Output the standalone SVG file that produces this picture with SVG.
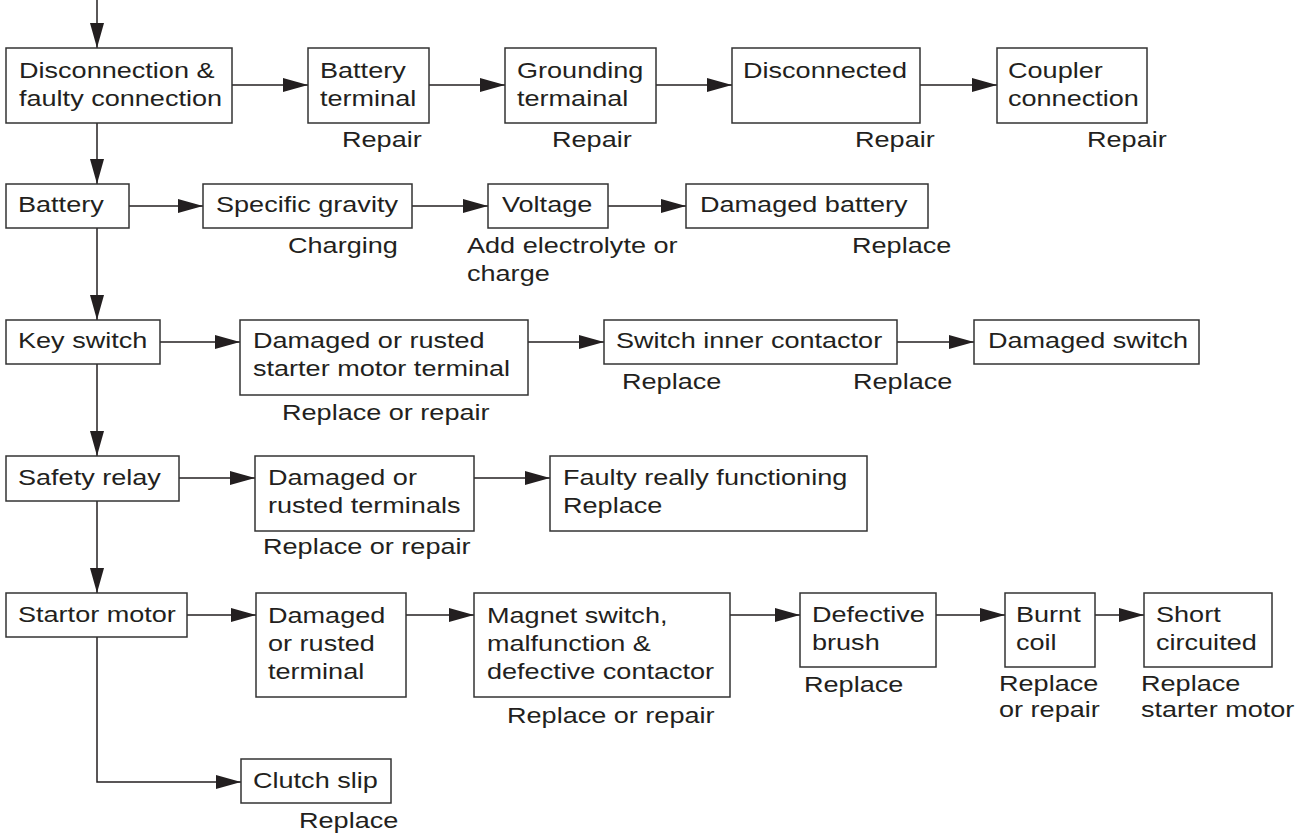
<svg xmlns="http://www.w3.org/2000/svg" width="1300" height="836" viewBox="0 0 1300 836">
<style>
.box{fill:#fff;stroke:#333;stroke-width:1.5}
.t{font-family:"Liberation Sans",Arial,Helvetica,sans-serif;font-size:22px;fill:#231f20}
.c{fill:none;stroke:#231f20;stroke-width:1.5}
</style>
<defs>
<marker id="ah" markerUnits="userSpaceOnUse" markerWidth="26" markerHeight="14" refX="25" refY="7" orient="auto">
<path d="M0,0 L25,7 L0,14 z" fill="#231f20"/>
</marker>
</defs>
<rect width="1300" height="836" fill="#fff"/>
<g id="connectors">
<line class="c" x1="97" y1="0" x2="97" y2="48" marker-end="url(#ah)"/>
<line class="c" x1="97" y1="123" x2="97" y2="184" marker-end="url(#ah)"/>
<line class="c" x1="97" y1="228" x2="97" y2="320" marker-end="url(#ah)"/>
<line class="c" x1="97" y1="364" x2="97" y2="456" marker-end="url(#ah)"/>
<line class="c" x1="97" y1="501" x2="97" y2="593" marker-end="url(#ah)"/>
<polyline class="c" points="97,637 97,782 241,782" marker-end="url(#ah)"/>
<line class="c" x1="232" y1="85" x2="308" y2="85" marker-end="url(#ah)"/>
<line class="c" x1="429" y1="85" x2="505" y2="85" marker-end="url(#ah)"/>
<line class="c" x1="656" y1="85" x2="732" y2="85" marker-end="url(#ah)"/>
<line class="c" x1="920" y1="85" x2="997" y2="85" marker-end="url(#ah)"/>
<line class="c" x1="129" y1="206" x2="203" y2="206" marker-end="url(#ah)"/>
<line class="c" x1="412" y1="206" x2="488" y2="206" marker-end="url(#ah)"/>
<line class="c" x1="608" y1="206" x2="686" y2="206" marker-end="url(#ah)"/>
<line class="c" x1="160" y1="342" x2="240" y2="342" marker-end="url(#ah)"/>
<line class="c" x1="528" y1="342" x2="604" y2="342" marker-end="url(#ah)"/>
<line class="c" x1="897" y1="342" x2="974" y2="342" marker-end="url(#ah)"/>
<line class="c" x1="179" y1="478" x2="255" y2="478" marker-end="url(#ah)"/>
<line class="c" x1="474" y1="478" x2="550" y2="478" marker-end="url(#ah)"/>
<line class="c" x1="187" y1="615" x2="256" y2="615" marker-end="url(#ah)"/>
<line class="c" x1="406" y1="615" x2="474" y2="615" marker-end="url(#ah)"/>
<line class="c" x1="730" y1="615" x2="800" y2="615" marker-end="url(#ah)"/>
<line class="c" x1="936" y1="615" x2="1005" y2="615" marker-end="url(#ah)"/>
<line class="c" x1="1095" y1="615" x2="1144" y2="615" marker-end="url(#ah)"/>
</g>
<g id="disconnection">
<rect class="box" x="6" y="48" width="226" height="75"/>
<text class="t" transform="translate(19 78) scale(1.23 1)"><tspan x="0">Disconnection &amp;</tspan><tspan x="0" dy="28">faulty connection</tspan></text>
</g>
<g id="battery-terminal">
<rect class="box" x="308" y="48" width="121" height="75"/>
<text class="t" transform="translate(320 78) scale(1.23 1)"><tspan x="0">Battery</tspan><tspan x="0" dy="28">terminal</tspan></text>
<text class="t" transform="translate(342 147) scale(1.23 1)">Repair</text>
</g>
<g id="grounding-terminal">
<rect class="box" x="505" y="48" width="151" height="75"/>
<text class="t" transform="translate(517 78) scale(1.23 1)"><tspan x="0">Grounding</tspan><tspan x="0" dy="28">termainal</tspan></text>
<text class="t" transform="translate(552 147) scale(1.23 1)">Repair</text>
</g>
<g id="disconnected">
<rect class="box" x="732" y="48" width="188" height="75"/>
<text class="t" transform="translate(743 78) scale(1.23 1)">Disconnected</text>
<text class="t" transform="translate(855 147) scale(1.23 1)">Repair</text>
</g>
<g id="coupler">
<rect class="box" x="997" y="48" width="150" height="75"/>
<text class="t" transform="translate(1008 78) scale(1.23 1)"><tspan x="0">Coupler</tspan><tspan x="0" dy="28">connection</tspan></text>
<text class="t" transform="translate(1087 147) scale(1.23 1)">Repair</text>
</g>
<g id="battery">
<rect class="box" x="6" y="184" width="123" height="44"/>
<text class="t" transform="translate(18 212) scale(1.23 1)">Battery</text>
</g>
<g id="specific-gravity">
<rect class="box" x="203" y="184" width="209" height="44"/>
<text class="t" transform="translate(216 212) scale(1.23 1)">Specific gravity</text>
<text class="t" transform="translate(288 253) scale(1.23 1)">Charging</text>
</g>
<g id="voltage">
<rect class="box" x="488" y="184" width="120" height="44"/>
<text class="t" transform="translate(502 212) scale(1.23 1)">Voltage</text>
<text class="t" transform="translate(467 253) scale(1.23 1)"><tspan x="0">Add electrolyte or</tspan><tspan x="0" dy="28">charge</tspan></text>
</g>
<g id="damaged-battery">
<rect class="box" x="686" y="184" width="242" height="44"/>
<text class="t" transform="translate(700 212) scale(1.23 1)">Damaged battery</text>
<text class="t" transform="translate(852 253) scale(1.23 1)">Replace</text>
</g>
<g id="key-switch">
<rect class="box" x="6" y="320" width="154" height="44"/>
<text class="t" transform="translate(18 348) scale(1.23 1)">Key switch</text>
</g>
<g id="starter-terminal">
<rect class="box" x="240" y="320" width="288" height="75"/>
<text class="t" transform="translate(253 348) scale(1.23 1)"><tspan x="0">Damaged or rusted</tspan><tspan x="0" dy="28">starter motor terminal</tspan></text>
<text class="t" transform="translate(282 420) scale(1.23 1)">Replace or repair</text>
</g>
<g id="switch-inner">
<rect class="box" x="604" y="320" width="293" height="44"/>
<text class="t" transform="translate(616 348) scale(1.23 1)">Switch inner contactor</text>
<text class="t" transform="translate(622 389) scale(1.23 1)">Replace</text>
</g>
<g id="damaged-switch">
<rect class="box" x="974" y="320" width="225" height="44"/>
<text class="t" transform="translate(988 348) scale(1.23 1)">Damaged switch</text>
<text class="t" transform="translate(853 389) scale(1.23 1)">Replace</text>
</g>
<g id="safety-relay">
<rect class="box" x="6" y="456" width="173" height="45"/>
<text class="t" transform="translate(18 485) scale(1.23 1)">Safety relay</text>
</g>
<g id="relay-terminals">
<rect class="box" x="255" y="456" width="219" height="75"/>
<text class="t" transform="translate(268 485) scale(1.23 1)"><tspan x="0">Damaged or</tspan><tspan x="0" dy="28">rusted terminals</tspan></text>
<text class="t" transform="translate(263 554) scale(1.23 1)">Replace or repair</text>
</g>
<g id="faulty-relay">
<rect class="box" x="550" y="456" width="317" height="75"/>
<text class="t" transform="translate(563 485) scale(1.23 1)"><tspan x="0">Faulty really functioning</tspan><tspan x="0" dy="28">Replace</tspan></text>
</g>
<g id="startor-motor">
<rect class="box" x="6" y="593" width="181" height="44"/>
<text class="t" transform="translate(18 622) scale(1.23 1)">Startor motor</text>
</g>
<g id="motor-terminal">
<rect class="box" x="256" y="593" width="150" height="104"/>
<text class="t" transform="translate(268 623) scale(1.23 1)"><tspan x="0">Damaged</tspan><tspan x="0" dy="28">or rusted</tspan><tspan x="0" dy="28">terminal</tspan></text>
</g>
<g id="magnet-switch">
<rect class="box" x="474" y="593" width="256" height="104"/>
<text class="t" transform="translate(487 623) scale(1.23 1)"><tspan x="0">Magnet switch,</tspan><tspan x="0" dy="28">malfunction &amp;</tspan><tspan x="0" dy="28">defective contactor</tspan></text>
<text class="t" transform="translate(507 723) scale(1.23 1)">Replace or repair</text>
</g>
<g id="defective-brush">
<rect class="box" x="800" y="593" width="136" height="74"/>
<text class="t" transform="translate(812 622) scale(1.23 1)"><tspan x="0">Defective</tspan><tspan x="0" dy="28">brush</tspan></text>
<text class="t" transform="translate(804 692) scale(1.23 1)">Replace</text>
</g>
<g id="burnt-coil">
<rect class="box" x="1005" y="593" width="90" height="74"/>
<text class="t" transform="translate(1016 622) scale(1.23 1)"><tspan x="0">Burnt</tspan><tspan x="0" dy="28">coil</tspan></text>
<text class="t" transform="translate(999 691) scale(1.23 1)"><tspan x="0">Replace</tspan><tspan x="0" dy="26">or repair</tspan></text>
</g>
<g id="short-circuited">
<rect class="box" x="1144" y="593" width="128" height="74"/>
<text class="t" transform="translate(1156 622) scale(1.23 1)"><tspan x="0">Short</tspan><tspan x="0" dy="28">circuited</tspan></text>
<text class="t" transform="translate(1141 691) scale(1.23 1)"><tspan x="0">Replace</tspan><tspan x="0" dy="26">starter motor</tspan></text>
</g>
<g id="clutch-slip">
<rect class="box" x="241" y="759" width="150" height="44"/>
<text class="t" transform="translate(253 788) scale(1.23 1)">Clutch slip</text>
<text class="t" transform="translate(299 828) scale(1.23 1)">Replace</text>
</g>
</svg>
